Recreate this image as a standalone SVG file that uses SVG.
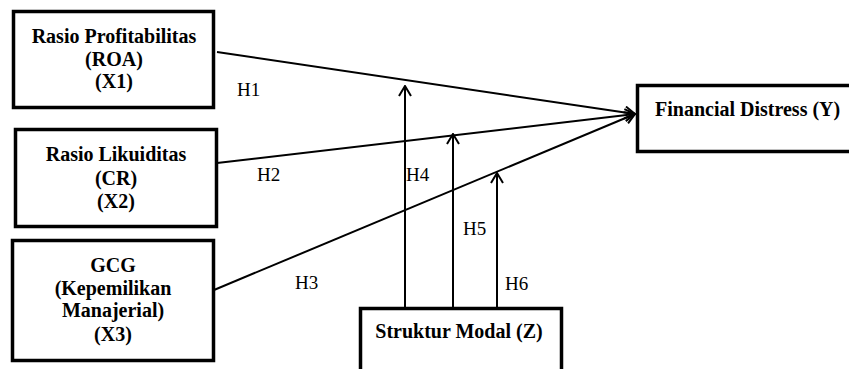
<svg xmlns="http://www.w3.org/2000/svg" width="849" height="369" viewBox="0 0 849 369" font-family="Liberation Serif, serif">
<style>
.box{fill:#fff;stroke:#000;stroke-width:3.5}
.lbl{font-weight:bold;font-size:20px;text-anchor:middle;fill:#000}
.h{font-size:19px;fill:#000}
.ln{stroke:#000;stroke-width:2;fill:none}
</style>
<defs>
<marker id="ah" viewBox="0 0 12 14" refX="11" refY="7" markerWidth="12" markerHeight="14" markerUnits="userSpaceOnUse" orient="auto">
<path d="M1,1 L11,7 L1,13" fill="none" stroke="#000" stroke-width="2"/>
</marker>
</defs>
<rect width="849" height="369" fill="#fff"/>
<g id="connectors">
<line class="ln" x1="217" y1="52" x2="635" y2="114" marker-end="url(#ah)"/>
<line class="ln" x1="217" y1="163" x2="635" y2="114" marker-end="url(#ah)"/>
<line class="ln" x1="214" y1="290" x2="635" y2="114" marker-end="url(#ah)"/>
<line class="ln" x1="405" y1="308" x2="405" y2="86" marker-end="url(#ah)"/>
<line class="ln" x1="453" y1="308" x2="453" y2="134" marker-end="url(#ah)"/>
<line class="ln" x1="497" y1="308" x2="497" y2="173" marker-end="url(#ah)"/>
<text class="h" font-family="Liberation Serif, serif" x="237" y="96">H1</text>
<text class="h" font-family="Liberation Serif, serif" x="257" y="181">H2</text>
<text class="h" font-family="Liberation Serif, serif" x="295" y="289">H3</text>
<text class="h" font-family="Liberation Serif, serif" x="406" y="181">H4</text>
<text class="h" font-family="Liberation Serif, serif" x="463" y="235">H5</text>
<text class="h" font-family="Liberation Serif, serif" x="505" y="290">H6</text>
</g>
<g id="x1" font-family="Liberation Serif, serif">
<rect class="box" x="13.5" y="11.5" width="200" height="96"/>
<text class="lbl" x="114" y="43">Rasio Profitabilitas</text>
<text class="lbl" x="114" y="66">(ROA)</text>
<text class="lbl" x="114" y="88">(X1)</text>
</g>
<g id="x2" font-family="Liberation Serif, serif">
<rect class="box" x="15.5" y="129.5" width="201" height="97"/>
<text class="lbl" x="116" y="161">Rasio Likuiditas</text>
<text class="lbl" x="116" y="185">(CR)</text>
<text class="lbl" x="116" y="208">(X2)</text>
</g>
<g id="x3" font-family="Liberation Serif, serif">
<rect class="box" x="12.5" y="240.5" width="201" height="120"/>
<text class="lbl" x="113" y="272">GCG</text>
<text class="lbl" x="113" y="295">(Kepemilikan</text>
<text class="lbl" x="113" y="317">Manajerial)</text>
<text class="lbl" x="113" y="341">(X3)</text>
</g>
<g id="y" font-family="Liberation Serif, serif">
<rect class="box" x="637.5" y="85.5" width="220" height="66"/>
<text class="lbl" x="655" y="116" style="text-anchor:start">Financial Distress (Y)</text>
</g>
<g id="z" font-family="Liberation Serif, serif">
<rect class="box" x="360.5" y="308.5" width="201" height="70"/>
<text class="lbl" x="459" y="338">Struktur Modal (Z)</text>
</g>
</svg>
